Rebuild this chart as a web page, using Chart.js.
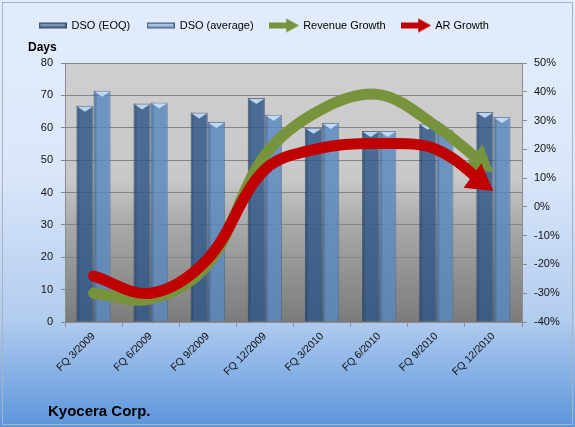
<!DOCTYPE html>
<html>
<head>
<meta charset="utf-8">
<script src="https://cdn.jsdelivr.net/npm/chart.js@4"></script>
<style>
html, body { margin: 0; padding: 0; background: #fff; }
#wrap { width: 575px; height: 427px; }
</style>
</head>
<body>
<div id="wrap"><canvas id="dsoChart" width="575" height="427"></canvas></div>
<script>
const quarters = ['FQ 3/2009', 'FQ 6/2009', 'FQ 9/2009', 'FQ 12/2009', 'FQ 3/2010', 'FQ 6/2010', 'FQ 9/2010', 'FQ 12/2010'];
const dsoEoq = [66.8, 67.5, 64.7, 69.2, 60.0, 59.0, 61.2, 64.9];
const dsoAvg = [71.4, 67.8, 61.8, 64.0, 61.5, 59.0, 59.4, 63.3];
const revenueGrowth = [-30, -32, -20, 18, 34, 39, 28, 12];   // %
const arGrowth = [-24, -30, -18, 13, 20.5, 22, 20, 5.5];      // %
const daysRange = [0, 80, 10];        // min, max, step
const growthRange = [-40, 50, 10];

const FONT = "'Liberation Sans', Arial, sans-serif";
const GREEN = '#77933c';
const RED = '#c00000';

// legend icons
function barIcon(fill, hi) {
    const c = document.createElement('canvas');
    c.width = 28; c.height = 8;
    const x = c.getContext('2d');
    x.fillStyle = fill;
    x.fillRect(0, 1, 28, 6);
    x.strokeStyle = 'rgba(40,60,90,0.7)';
    x.strokeRect(0.5, 1.5, 27, 5);
    x.fillStyle = hi;
    x.fillRect(2, 3, 24, 1);
    return c;
}
function arrowIcon(color) {
    const c = document.createElement('canvas');
    c.width = 30; c.height = 16;
    const x = c.getContext('2d');
    x.fillStyle = color;
    x.fillRect(0, 5, 19, 6);
    x.beginPath();
    x.moveTo(17, 1); x.lineTo(30, 8); x.lineTo(17, 15);
    x.closePath();
    x.fill();
    return c;
}
const legendIcons = [
    barIcon('#52719a', '#9db8d8'),
    barIcon('#7fa2cf', '#d5e5f7'),
    arrowIcon(GREEN),
    arrowIcon(RED)
];

// arrow head geometry at the end of a line dataset
function headOf(meta, len, wid) {
    const pts = meta.data;
    const p = pts[pts.length - 1], q = pts[pts.length - 2];
    let dx = p.x - q.x, dy = p.y - q.y;
    const m = Math.hypot(dx, dy);
    dx /= m; dy /= m;
    const bx = p.x - dx * len, by = p.y - dy * len;
    return { p, dx, dy, bx, by, nx: -dy * wid / 2, ny: dx * wid / 2, len };
}

const backdrop = {
    id: 'backdrop',
    beforeUpdate(chart) {
        const lg = chart.legend;
        if (lg && !lg._fixed) {
            const fit = lg.fit;
            lg.fit = function () { fit.call(this); this.height = 60; };
            lg._fixed = true;
        }
    },
    beforeDraw(chart) {
        const { ctx, width, height, chartArea: a } = chart;
        ctx.save();
        let g = ctx.createLinearGradient(0, 0, 0, height);
        g.addColorStop(0, '#e2ecfb');
        g.addColorStop(0.4, '#dbe7fa');
        g.addColorStop(0.75, '#b2ccef');
        g.addColorStop(1, '#5b95dc');
        ctx.fillStyle = g;
        ctx.fillRect(0, 0, width, height);
        ctx.strokeStyle = '#a9b3c0';
        ctx.strokeRect(2.5, 2.5, width - 5, height - 5);
        g = ctx.createLinearGradient(0, a.top, 0, a.bottom);
        g.addColorStop(0, '#cfcfcf');
        g.addColorStop(0.45, '#c8c8c8');
        g.addColorStop(0.62, '#aaaaaa');
        g.addColorStop(1, '#7b7b7b');
        ctx.fillStyle = g;
        ctx.fillRect(a.left, a.top, a.right - a.left, a.bottom - a.top);
        ctx.restore();
        chart.legend.left = 0;
        chart.legend.right = 528;
    },
    afterDraw(chart) {
        const ctx = chart.ctx;
        ctx.save();
        ctx.fillStyle = '#000';
        ctx.textBaseline = 'alphabetic';
        ctx.font = 'bold 12px ' + FONT;
        ctx.fillText('Days', 28, 51);
        ctx.font = 'bold 15px ' + FONT;
        ctx.fillText('Kyocera Corp.', 48, 416);
        ctx.restore();
    }
};

const arrowHeads = {
    id: 'arrowHeads',
    beforeDatasetDraw(chart, args) {
        if (args.meta.type !== 'line') return;
        const h = headOf(args.meta, 24, 40);
        const ctx = chart.ctx;
        ctx.save();
        ctx.beginPath();
        ctx.rect(0, 0, chart.width, chart.height);
        ctx.moveTo(h.bx + h.nx, h.by + h.ny);
        ctx.lineTo(h.bx + h.nx + h.dx * 40, h.by + h.ny + h.dy * 40);
        ctx.lineTo(h.bx - h.nx + h.dx * 40, h.by - h.ny + h.dy * 40);
        ctx.lineTo(h.bx - h.nx, h.by - h.ny);
        ctx.closePath();
        ctx.clip('evenodd');
    },
    afterDatasetDraw(chart, args) {
        if (args.meta.type !== 'line') return;
        const ctx = chart.ctx;
        ctx.restore();
        const h = headOf(args.meta, 26, 30);
        ctx.save();
        ctx.fillStyle = chart.data.datasets[args.index].borderColor;
        ctx.beginPath();
        ctx.moveTo(h.p.x, h.p.y);
        ctx.lineTo(h.bx + h.nx, h.by + h.ny);
        ctx.lineTo(h.bx - h.nx, h.by - h.ny);
        ctx.closePath();
        ctx.fill();
        ctx.restore();
    }
};

const barCaps = {
    id: 'barCaps',
    afterDatasetDraw(chart, args) {
        if (args.meta.type !== 'bar') return;
        const ctx = chart.ctx;
        ctx.save();
        args.meta.data.forEach(bar => {
            const { x, y, width, base } = bar.getProps(['x', 'y', 'width', 'base']);
            const l = x - width / 2, r = x + width / 2;
            ctx.fillStyle = 'rgba(20,40,70,0.18)';
            ctx.fillRect(l, y, 3, base - y);
            ctx.fillStyle = 'rgba(200,225,250,0.9)';
            ctx.beginPath();
            ctx.moveTo(l + 1, y + 1);
            ctx.lineTo(r - 1, y + 1);
            ctx.lineTo(x, y + 6);
            ctx.closePath();
            ctx.fill();
        });
        ctx.restore();
    }
};

const dChart = document.getElementById('dsoChart');
const myChart = new Chart(dChart, {
    data: {
        labels: quarters,
        datasets: [{
            type: 'bar',
            label: 'DSO (EOQ)',
            data: dsoEoq,
            yAxisID: 'y',
            backgroundColor: 'rgba(45,85,135,0.82)',
            borderColor: 'rgba(40,65,100,0.6)',
            borderWidth: 1,
            categoryPercentage: 0.6,
            barPercentage: 1,
            order: 2
        }, {
            type: 'bar',
            label: 'DSO (average)',
            data: dsoAvg,
            yAxisID: 'y',
            backgroundColor: 'rgba(89,135,192,0.82)',
            borderColor: 'rgba(60,95,140,0.6)',
            borderWidth: 1,
            categoryPercentage: 0.6,
            barPercentage: 1,
            order: 2
        }, {
            type: 'line',
            label: 'Revenue Growth',
            data: revenueGrowth,
            yAxisID: 'y1',
            borderColor: GREEN,
            borderWidth: 11,
            borderCapStyle: 'round',
            pointRadius: 0,
            tension: 0.35,
            order: 1
        }, {
            type: 'line',
            label: 'AR Growth',
            data: arGrowth,
            yAxisID: 'y1',
            borderColor: RED,
            borderWidth: 11,
            borderCapStyle: 'round',
            pointRadius: 0,
            tension: 0.35,
            order: 0
        }]
    },
    options: {
        responsive: false,
        animation: false,
        layout: { padding: { top: 3, left: 0, right: 0, bottom: 0 } },
        plugins: {
            tooltip: { enabled: false },
            legend: {
                position: 'top',
                labels: {
                    usePointStyle: true,
                    pointStyleWidth: 27,
                    boxHeight: 11,
                    padding: 17,
                    color: '#000',
                    font: { family: FONT, size: 11 },
                    generateLabels(chart) {
                        return chart.data.datasets.map((ds, i) => ({
                            text: ds.label,
                            pointStyle: legendIcons[i],
                            datasetIndex: i,
                            hidden: false,
                            fillStyle: 'transparent',
                            strokeStyle: 'transparent',
                            lineWidth: 0
                        }));
                    }
                }
            }
        },
        scales: {
            x: {
                offset: true,
                grid: { offset: true, drawOnChartArea: false, tickLength: 5, color: '#8c8c8c' },
                border: { color: '#8c8c8c' },
                ticks: { autoSkip: false, maxRotation: 45, minRotation: 45, color: '#111', font: { family: FONT, size: 10.5 } },
                afterFit(s) { s.height = 105; }
            },
            y: {
                position: 'left',
                min: daysRange[0],
                max: daysRange[1],
                ticks: { stepSize: daysRange[2], padding: 8, color: '#111', font: { family: FONT, size: 11 } },
                grid: { color: '#858585', tickLength: 4 },
                border: { color: '#8c8c8c' },
                afterFit(s) { s.width = 65; }
            },
            y1: {
                position: 'right',
                min: growthRange[0],
                max: growthRange[1],
                ticks: { stepSize: growthRange[2], padding: 7, color: '#111', font: { family: FONT, size: 11 }, callback: v => v + '%' },
                grid: { drawOnChartArea: false, tickLength: 5, color: '#8c8c8c' },
                border: { color: '#8c8c8c' },
                afterFit(s) { s.width = 53; }
            }
        }
    },
    plugins: [backdrop, arrowHeads, barCaps]
});
</script>
</body>
</html>
